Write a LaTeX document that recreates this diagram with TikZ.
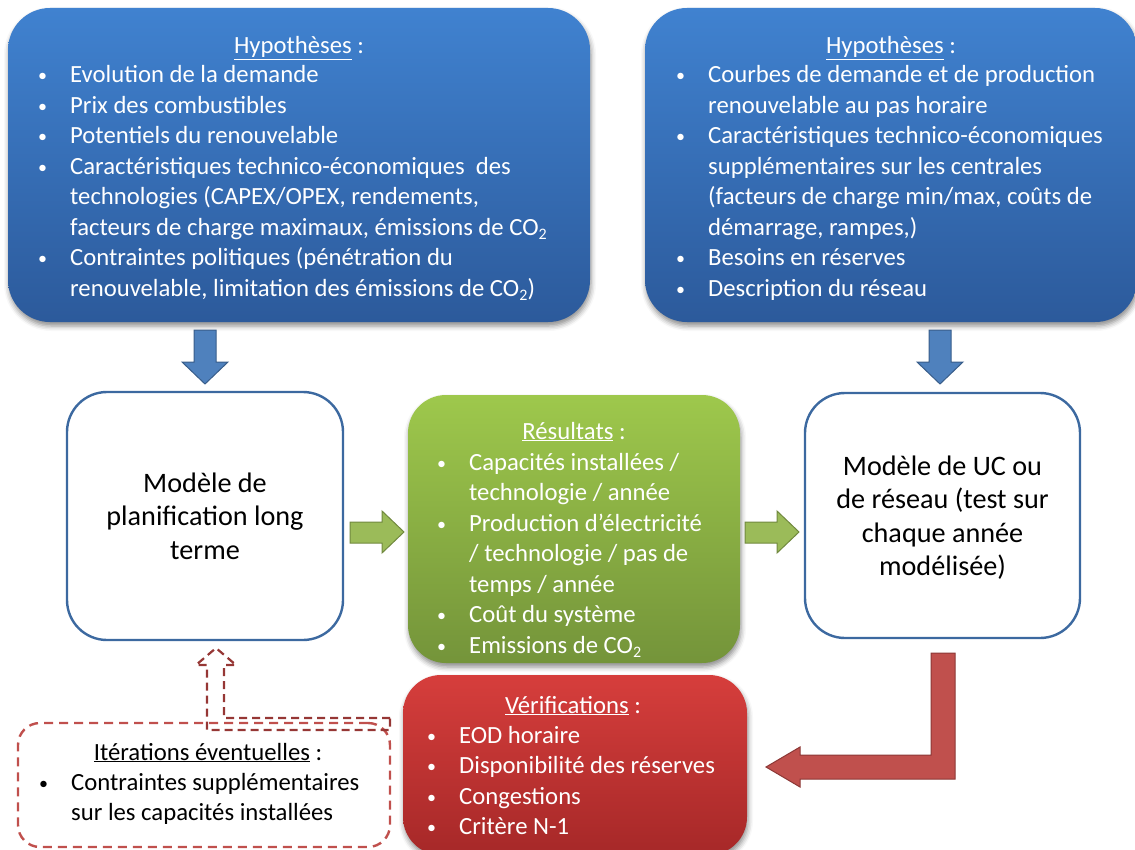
\documentclass[tikz,border=0pt]{standalone}
\usepackage{fontspec}
\setmainfont{Carlito}
\usetikzlibrary{shadows.blur}
\definecolor{bluetop}{RGB}{64,130,208}
\definecolor{bluebot}{RGB}{44,90,155}
\definecolor{greentop}{RGB}{158,200,76}
\definecolor{greenbot}{RGB}{116,148,58}
\definecolor{redtop}{RGB}{214,62,60}
\definecolor{redbot}{RGB}{166,40,40}
\definecolor{framblue}{RGB}{60,105,160}
\definecolor{arrblue}{RGB}{79,129,189}
\definecolor{arrblueb}{RGB}{56,93,138}
\definecolor{arrgreen}{RGB}{155,187,89}
\definecolor{arrgreenb}{RGB}{113,137,63}
\definecolor{arrred}{RGB}{192,80,77}
\definecolor{arrredb}{RGB}{140,56,54}
\definecolor{dashred}{RGB}{192,80,77}
\definecolor{dashdark}{RGB}{150,55,53}
\newcommand\fa{\fontsize{24.7}{30.5}\selectfont}
\newcommand\fb{\fontsize{28.2}{33.5}\selectfont}
\newcommand\bitem[1]{\par\hangindent=32pt\hangafter=1\noindent\hbox to 32pt{\raisebox{1pt}{\fontsize{18}{18}\selectfont\textbullet}\hfil}#1}
\newcommand\hdr[1]{\underline{#1} :}
\newcommand\cosub{CO\raisebox{-4pt}{\fontsize{16}{16}\selectfont 2}}
\tikzset{
  fbox/.style={rounded corners=42pt, inner sep=0pt,
    blur shadow={shadow xshift=1pt, shadow yshift=-4pt, shadow blur radius=5pt, shadow opacity=45}},
  bluebox/.style={fbox, top color=bluetop, bottom color=bluebot},
  greenbox/.style={fbox, rounded corners=38pt, top color=greentop, bottom color=greenbot},
  redbox/.style={fbox, rounded corners=38pt, top color=redtop, bottom color=redbot},
  whitebox/.style={draw=framblue, line width=2.4pt, fill=white, rounded corners=40pt, inner sep=0pt},
  dashbox/.style={draw=dashred, line width=2.4pt, dash pattern=on 9pt off 6pt, rounded corners=22pt, inner sep=0pt},
  ttl/.style={anchor=base, inner sep=0pt, font=\fa},
  lst/.style={anchor=base west, inner sep=0pt, font=\fa},
  blk/.style={anchor=base, inner sep=0pt, font=\fb, text=black},
  arrb/.style={fill=arrblue, draw=arrblueb, line width=1pt},
  arrg/.style={fill=arrgreen, draw=arrgreenb, line width=1pt},
  arrr/.style={fill=arrred, draw=arrredb, line width=1pt},
  arrd/.style={draw=dashdark, line width=2.2pt, dash pattern=on 8pt off 5pt}
}
\begin{document}
\begin{tikzpicture}[x=1pt,y=-1pt]
\useasboundingbox (0,0) rectangle (1135,850);
% boxes
\node[bluebox, minimum width=582pt, minimum height=314pt] (hypL) at (299,165) {};
\node[bluebox, minimum width=492pt, minimum height=314pt] (hypR) at (891,165) {};
\node[whitebox, minimum width=276pt, minimum height=248pt] (plan) at (205,516) {};
\node[greenbox, minimum width=332pt, minimum height=268pt] (res) at (574,529) {};
\node[whitebox, minimum width=275pt, minimum height=245pt] (uc) at (942.5,515.5) {};
\node[redbox, minimum width=344pt, minimum height=180pt] (verif) at (575,765) {};
\node[dashbox, minimum width=372pt, minimum height=124pt] (iter) at (204,785) {};

% left hypotheses
\node[ttl, text=white] (tL) at (299,54) {\hdr{Hypothèses}};
\node[lst, text=white] (lL) at (38,83) {\parbox[t]{580pt}{\raggedright
\bitem{Evolution de la demande}
\bitem{Prix des combustibles}
\bitem{Potentiels du renouvelable}
\bitem{Caractéristiques technico-économiques\ \ des\newline technologies (CAPEX/OPEX, rendements,\newline facteurs de charge maximaux, émissions de \cosub}
\bitem{Contraintes politiques (pénétration du\newline renouvelable, limitation des émissions de \cosub)}}};

% right hypotheses
\node[ttl, text=white] (tR) at (891,54) {\hdr{Hypothèses}};
\node[lst, text=white] (lR) at (676,83) {\parbox[t]{470pt}{\raggedright
\bitem{Courbes de demande et de production\newline renouvelable au pas horaire}
\bitem{Caractéristiques technico-économiques\newline supplémentaires sur les centrales\newline (facteurs de charge min/max, coûts de\newline démarrage, rampes,)}
\bitem{Besoins en réserves}
\bitem{Description du réseau}}};

% white boxes text
\node[blk] (tplan) at (205,492) {\parbox[t]{270pt}{\centering Modèle de\\planification long\\terme}};
\node[blk] (tuc) at (942.5,475) {\parbox[t]{270pt}{\centering Modèle de UC ou\\de réseau (test sur\\chaque année\\modélisée)}};

% results
\node[ttl, text=white] (tres) at (574,439) {\hdr{Résultats}};
\node[lst, text=white] (lres) at (437,470) {\parbox[t]{320pt}{\raggedright
\bitem{Capacités installées /\newline technologie / année}
\bitem{Production d’électricité\newline / technologie / pas de\newline temps / année}
\bitem{Coût du système}
\bitem{Emissions de \cosub}}};

% verifications
\node[ttl, text=white] (tver) at (573,713) {\hdr{Vérifications}};
\node[lst, text=white] (lver) at (427,743) {\parbox[t]{330pt}{\raggedright
\bitem{EOD horaire}
\bitem{Disponibilité des réserves}
\bitem{Congestions}
\bitem{Critère N-1}}};

% iterations
\node[ttl, text=black] (titer) at (208,760) {\hdr{Itérations éventuelles}};
\node[lst, text=black] (liter) at (39,790) {\parbox[t]{360pt}{\raggedright
\bitem{Contraintes supplémentaires\newline sur les capacités installées}}};

% blue arrows
\draw[arrb] (194,330) -- (216,330) -- (216,362) -- (228,362) -- (205,384) -- (182,362) -- (194,362) -- cycle;
\draw[arrb] (929,330) -- (951,330) -- (951,362) -- (963,362) -- (940,384) -- (917,362) -- (929,362) -- cycle;
% green arrows
\draw[arrg] (350,522) -- (382,522) -- (382,511) -- (404,532) -- (382,553) -- (382,543) -- (350,543) -- cycle;
\draw[arrg] (745,522) -- (777,522) -- (777,511) -- (799,532) -- (777,553) -- (777,543) -- (745,543) -- cycle;
% red bent arrow
\draw[arrr] (931,653) -- (955,653) -- (955,779) -- (800,779) -- (800,787) -- (766,767) -- (800,747) -- (800,755) -- (931,755) -- cycle;
% dashed bent arrow
\draw[arrd] (390,718) -- (224,718) -- (224,665) -- (236,665) -- (216,648) -- (196,665) -- (207,665) -- (207,730) -- (390,730) -- cycle;
\end{tikzpicture}
\end{document}
